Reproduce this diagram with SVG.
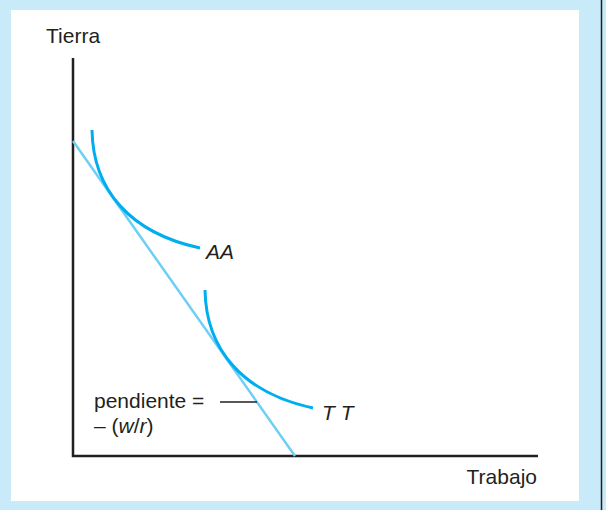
<svg xmlns="http://www.w3.org/2000/svg" width="606" height="510" viewBox="0 0 606 510">
<style>
.lbl{font-family:"Liberation Sans",Arial,sans-serif;font-size:21px;fill:#231f20}
.it{font-style:italic}
.axis{stroke:#231f20;stroke-width:2.5;fill:none}
.curve{stroke:#00aeef;stroke-width:3;fill:none;stroke-linecap:butt}
.budget{stroke:#6dcff6;stroke-width:2.5;fill:none}
</style>
<rect x="0" y="0" width="606" height="510" fill="#c8eaf9"/>
<rect x="11" y="10" width="568" height="491" fill="#ffffff"/>
<line x1="601.5" y1="0" x2="601.5" y2="510" stroke="#231f20" stroke-width="1.5"/>
<g id="axes">
<path class="axis" d="M73,58 V456 H538"/>
<text class="lbl" x="46" y="43">Tierra</text>
<text class="lbl" x="537" y="484" text-anchor="end">Trabajo</text>
</g>
<g id="connectors">
<line class="budget" x1="73" y1="141" x2="295" y2="456"/>
<line x1="220" y1="402" x2="257" y2="402" stroke="#231f20" stroke-width="1.3"/>
</g>
<g id="AA">
<path class="curve" d="M92,130 C93,190 130,233 200,248"/>
<text class="lbl it" x="206" y="259">AA</text>
</g>
<g id="TT">
<path class="curve" d="M205,290 C206,350 243,393 313,408"/>
<text class="lbl it" x="322" y="420">T T</text>
</g>
<g id="label">
<text class="lbl" x="94" y="408">pendiente =</text>
<text class="lbl" x="94" y="433">– (<tspan class="it">w</tspan>/<tspan class="it">r</tspan>)</text>
</g>
</svg>
